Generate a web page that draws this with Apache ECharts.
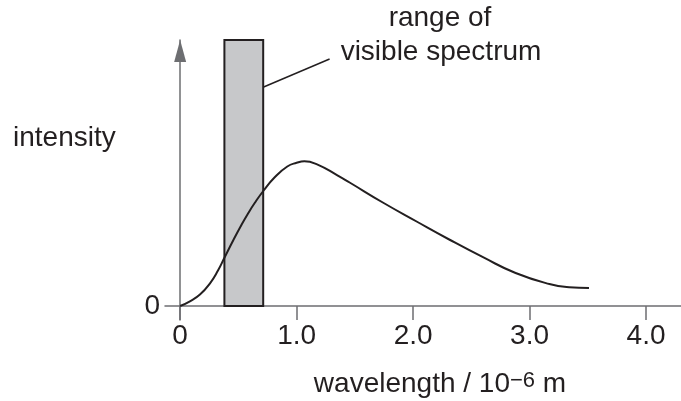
<!DOCTYPE html>
<html>
<head>
<meta charset="utf-8">
<script src="https://cdn.jsdelivr.net/npm/echarts@6/dist/echarts.min.js"></script>
<style>
html,body{margin:0;padding:0;background:#fff;}
#c{width:681px;height:401px;}
</style>
</head>
<body>
<div id="c"></div>
<script>
// wavelength (10^-6 m) and relative intensity
const wavelength = [0, 0.084, 0.17, 0.255, 0.326, 0.377, 0.455, 0.526, 0.583, 0.64, 0.717, 0.81, 0.92, 1.0, 1.066, 1.18, 1.35, 1.455, 1.74, 2.03, 2.31, 2.60, 2.88, 3.17, 3.34, 3.51];
const intensity  = [0, 4.7, 11.4, 22.4, 35.7, 47.5, 65.5, 81, 92.5, 103, 115.5, 128.5, 139.5, 143.2, 144.7, 141.4, 130.7, 123.5, 103.5, 84.5, 66.5, 48.8, 33, 22, 18.8, 18];
const xTicks = [0, 1, 2, 3, 4];
const xTickLabels = ['0', '1.0', '2.0', '3.0', '4.0'];
const yTicks = [0];
const yTickLabels = ['0'];
const visibleRange = [0.38, 0.713];   // band of visible spectrum
const intensityTop = 266;
const leaderFrom = [0.717, 219];
const leaderTo = [1.283, 247];

const FONT = "'Liberation Sans', Arial, Helvetica, sans-serif";
const INK = '#231f20';
const AXIS = '#6d6e71';

const chart = echarts.init(document.getElementById('c'), null, {renderer: 'canvas'});
chart.setOption({
  animation: false,
  backgroundColor: '#fff',
  grid: {left: 165, right: 0, top: 40, bottom: 81, containLabel: false},
  xAxis: {
    type: 'value', min: -0.13, max: 4.3,
    splitLine: {show: false},
    axisLine: {show: true, onZero: true, lineStyle: {color: AXIS, width: 1.5}},
    axisTick: {show: true, customValues: xTicks, length: 14, inside: false, lineStyle: {color: AXIS, width: 1.5}},
    axisLabel: {show: true, customValues: xTicks, margin: 2, fontSize: 28, fontFamily: FONT, color: INK,
      formatter: v => xTickLabels[xTicks.indexOf(v)] ?? ''}
  },
  yAxis: {
    type: 'value', min: -14, max: intensityTop,
    splitLine: {show: false},
    axisLine: {show: true, onZero: true, symbol: ['none', 'triangle'], symbolSize: [12, 22], symbolOffset: [0, -11],
      lineStyle: {color: AXIS, width: 1.5}},
    axisTick: {show: false},
    axisLabel: {show: true, customValues: yTicks, margin: 5, fontSize: 28, fontFamily: FONT, color: INK,
      formatter: v => yTickLabels[yTicks.indexOf(v)] ?? ''}
  },
  series: [
    {
      type: 'line', data: [], z: 1, silent: true,
      markArea: {
        silent: true,
        itemStyle: {color: '#c7c8ca', borderColor: INK, borderWidth: 2},
        label: {show: false},
        data: [[{xAxis: visibleRange[0], yAxis: 0}, {xAxis: visibleRange[1], yAxis: intensityTop}]]
      },
      markLine: {
        silent: true, symbol: ['none', 'none'],
        label: {show: false},
        lineStyle: {color: INK, width: 1.5, type: 'solid'},
        data: [[{coord: leaderFrom}, {coord: leaderTo}]]
      }
    },
    {
      type: 'line', z: 5, silent: true,
      data: wavelength.map((w, i) => [w, intensity[i]]),
      smooth: 0.5, showSymbol: false, symbol: 'none',
      lineStyle: {color: INK, width: 2}
    }
  ],
  graphic: [
    {type: 'text', left: 13, top: 124, style: {text: 'intensity', fontSize: 28, fontFamily: FONT, fill: INK}},
    {type: 'text', x: 440, y: 18, style: {text: 'range of', fontSize: 28, fontFamily: FONT, fill: INK, align: 'center', verticalAlign: 'middle'}},
    {type: 'text', x: 441, y: 52, style: {text: 'visible spectrum', fontSize: 28, fontFamily: FONT, fill: INK, align: 'center', verticalAlign: 'middle'}},
    {type: 'text', x: 440, y: 384, style: {
      text: '{a|wavelength / 10}{s|−6}{a| m}', align: 'center', verticalAlign: 'middle',
      rich: {
        a: {fontSize: 28, fontFamily: FONT, fill: INK, color: INK},
        s: {fontSize: 22, fontFamily: FONT, fill: INK, color: INK, verticalAlign: 'top'}
      }
    }}
  ]
});
</script>
</body>
</html>
